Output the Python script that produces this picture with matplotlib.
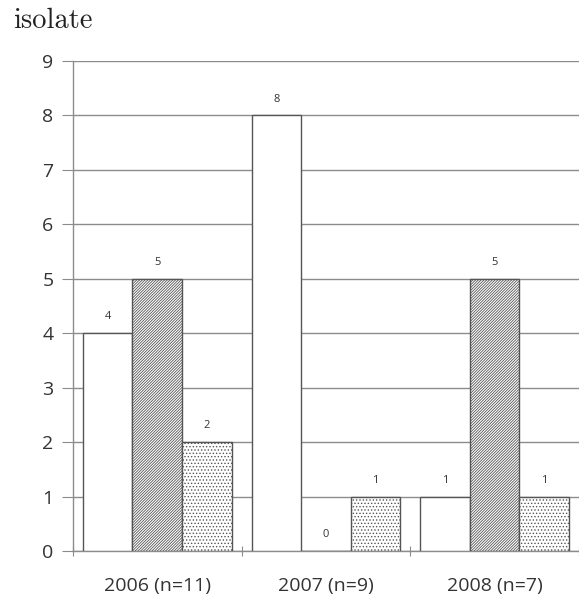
import numpy as np
import matplotlib
matplotlib.use("Agg")
import matplotlib.pyplot as plt

categories = ["2006 (n=11)", "2007 (n=9)", "2008 (n=7)"]
series_a = [4, 8, 1]   # open bars
series_b = [5, 0, 5]   # hatched bars
series_c = [2, 1, 1]   # dotted bars
yticks = list(range(0, 10))

plt.rcParams["hatch.linewidth"] = 0.6
grey = "#8c8c8c"

fig = plt.figure(figsize=(5.79, 6.07), dpi=100)
ax = fig.add_axes([0.126, 0.0923, 0.874, 0.8072])

x = np.arange(len(categories))
w = 0.294
styles = [(series_a, -w, None), (series_b, 0, "////////////"), (series_c, w, ".....")]
for vals, off, hatch in styles:
    bars = ax.bar(x + off, vals, width=w, facecolor="white", edgecolor="#555555",
                  linewidth=1.0, hatch=hatch, zorder=3)
    for b, v in zip(bars, vals):
        ax.text(b.get_x() + b.get_width() / 2, v + 0.2, str(v), ha="center",
                va="bottom", fontsize=8, color="#333333", family="Open Sans")

ax.set_xlim(-0.5, 2.5)
ax.set_ylim(0, 9)
ax.set_yticks(yticks)
ax.yaxis.grid(True, color=grey, linewidth=1.0, zorder=0)
ax.set_axisbelow(True)
ax.set_xticks([-0.5, 0.5, 1.5, 2.5])
ax.set_xticklabels([])
ax.set_xticks(x, minor=True)
ax.set_xticklabels(categories, minor=True, fontsize=14, color="#333333",
                   family="Open Sans")
ax.tick_params(axis="x", which="minor", length=0, pad=19)
ax.tick_params(axis="x", which="major", length=7, color=grey, direction="inout")
ax.tick_params(axis="y", length=8, color=grey, labelsize=14, labelcolor="#333333",
               pad=6)
for t in ax.get_yticklabels():
    t.set_family("Open Sans")
for s in ["top", "right"]:
    ax.spines[s].set_visible(False)
for s in ["left", "bottom"]:
    ax.spines[s].set_color(grey)
    ax.spines[s].set_linewidth(1.0)

fig.text(0.022, 0.966, "isolate", fontsize=20.5, family="cmr10",
         color="#222222", ha="left", va="center")

fig.savefig("out.png", dpi=100)
